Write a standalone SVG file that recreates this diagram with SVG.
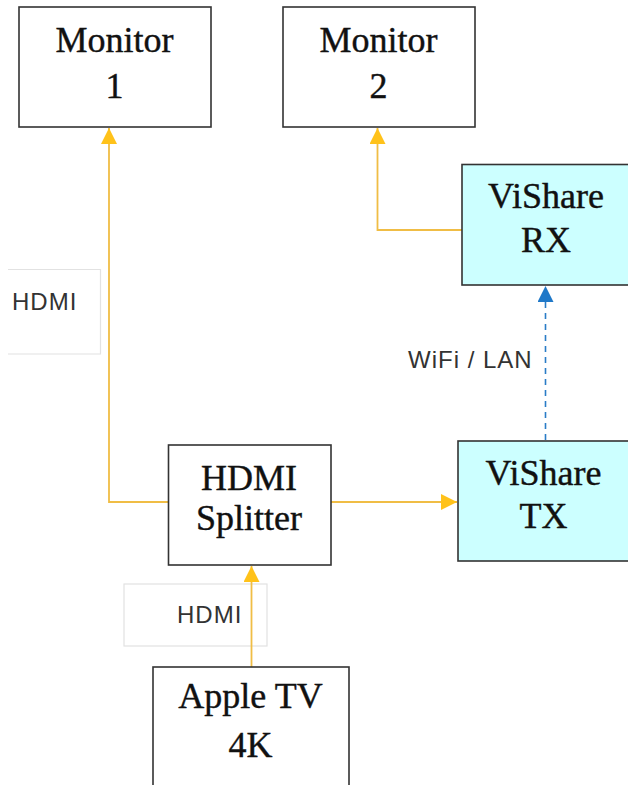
<svg xmlns="http://www.w3.org/2000/svg" width="628" height="785" viewBox="0 0 628 785">
<defs>
<style>
.box{fill:#ffffff;stroke:#333333;stroke-width:1.6}
.cyan{fill:#ccffff;stroke:#333333;stroke-width:1.6}
.t{font-family:"Liberation Serif","Times New Roman",serif;font-size:36px;fill:#111111;stroke:#111111;stroke-width:0.4;text-anchor:middle}
.lbl{font-family:"Liberation Sans",Arial,sans-serif;font-size:24px;letter-spacing:1px;fill:#333333}
.lblbox{fill:#ffffff;stroke:#e2e2e2;stroke-width:1.2}
.wire{fill:none;stroke:#f0bd45;stroke-width:1.8}
.wifi{fill:none;stroke:#2a7cc7;stroke-width:1.6;stroke-dasharray:6 5}
</style>
<marker id="ah" markerWidth="16" markerHeight="16" viewBox="0 0 16 16" refX="16" refY="8" orient="auto" markerUnits="userSpaceOnUse">
<path d="M0,0 L16,8 L0,16 Z" fill="#ffc21a"/>
</marker>
<marker id="ahb" markerWidth="16" markerHeight="16" viewBox="0 0 16 16" refX="16" refY="8" orient="auto" markerUnits="userSpaceOnUse">
<path d="M0,0 L16,8 L0,16 Z" fill="#1f78c8"/>
</marker>
</defs>

<g id="labels">
<path class="lblbox" d="M8,269.5 H100.5 V354 H8"/>
<text class="lbl" x="12" y="310">HDMI</text>
<rect class="lblbox" x="124" y="584" width="143" height="62"/>
<text class="lbl" x="177" y="623">HDMI</text>
<text class="lbl" x="408" y="368">WiFi / LAN</text>
</g>

<g id="connectors">
<path class="wire" d="M168,502 H109 V128" marker-end="url(#ah)"/>
<path class="wire" d="M462,230 H377.5 V128" marker-end="url(#ah)"/>
<path class="wire" d="M331,502 H457" marker-end="url(#ah)"/>
<path class="wire" d="M251.5,667 V566" marker-end="url(#ah)"/>
<path class="wifi" d="M545.5,440 V286" marker-end="url(#ahb)"/>
</g>

<g id="monitor1">
<rect class="box" x="19" y="7" width="192" height="120"/>
<text class="t" x="114.5" y="52">Monitor</text>
<text class="t" x="114.5" y="98">1</text>
</g>

<g id="monitor2">
<rect class="box" x="283" y="7" width="192" height="120"/>
<text class="t" x="378.5" y="52">Monitor</text>
<text class="t" x="378.5" y="98">2</text>
</g>

<g id="vishare-rx">
<rect class="cyan" x="462" y="164.5" width="170" height="120.5"/>
<text class="t" x="546" y="208">ViShare</text>
<text class="t" x="546" y="252">RX</text>
</g>

<g id="vishare-tx">
<rect class="cyan" x="458" y="441" width="176" height="120"/>
<text class="t" x="543.5" y="485">ViShare</text>
<text class="t" x="543.5" y="528">TX</text>
</g>

<g id="hdmi-splitter">
<rect class="box" x="168.5" y="445" width="162.5" height="120"/>
<text class="t" x="249" y="490">HDMI</text>
<text class="t" x="249" y="530">Splitter</text>
</g>

<g id="apple-tv">
<rect class="box" x="153" y="667" width="196" height="140"/>
<text class="t" x="250.5" y="708">Apple TV</text>
<text class="t" x="250.5" y="757">4K</text>
</g>
</svg>
